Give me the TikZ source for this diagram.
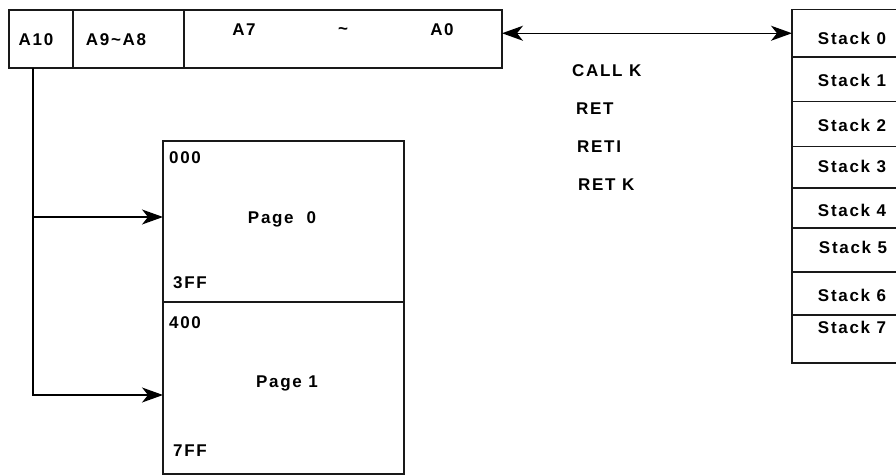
\documentclass[tikz,border=0pt]{standalone}
\usepackage{fontspec}
\newfontfamily\lbl[LetterSpace=10]{Liberation Sans}
\usetikzlibrary{arrows.meta}
\begin{document}
\begin{tikzpicture}[x=1pt,y=-1pt,
  box/.style={draw=black!90, line width=1.4pt, anchor=north west, inner sep=0pt, outer sep=0pt},
  txt/.style={font=\lbl\bfseries\fontsize{17}{20}\selectfont, inner sep=0pt, text=black},
  ltxt/.style={txt, anchor=west},
  conn/.style={line width=1.4pt, draw=black},
  tip/.style={-{Stealth[length=21pt,width=15pt,inset=6pt]}},
  tips/.style={{Stealth[length=21pt,width=15pt,inset=6pt]}-{Stealth[length=21pt,width=15pt,inset=6pt]}}]
\useasboundingbox[fill=white] (0,0) rectangle (896,476);
% register
\node[box, minimum width=64pt, minimum height=58pt] (r1) at (9,10) {};
\node[box, minimum width=111pt, minimum height=58pt] (r2) at (73,10) {};
\node[box, minimum width=318pt, minimum height=58pt] (r3) at (184,10) {};
\node[txt] (ta10) at (36,40) {A10};
\node[txt] (ta98) at (116,40) {A9\textasciitilde A8};
\node[txt] (ta7) at (244,30) {A7};
\node[txt] (tti) at (343,31) {\textasciitilde};
\node[txt] (ta0) at (442,30) {A0};
% stack
\node[box, minimum width=108pt, minimum height=47.5pt] (s0) at (792,9.5) {};
\node[box, minimum width=108pt, minimum height=44.5pt] (s1) at (792,57) {};
\node[box, minimum width=108pt, minimum height=45pt] (s2) at (792,101.5) {};
\node[box, minimum width=108pt, minimum height=41.5pt] (s3) at (792,146.5) {};
\node[box, minimum width=108pt, minimum height=40pt] (s4) at (792,188) {};
\node[box, minimum width=108pt, minimum height=44pt] (s5) at (792,228) {};
\node[box, minimum width=108pt, minimum height=43pt] (s6) at (792,272) {};
\node[box, minimum width=108pt, minimum height=48pt] (s7) at (792,315) {};
\node[txt] (ts0) at (852,38) {Stack 0};
\node[txt] (ts1) at (852,80) {Stack 1};
\node[txt] (ts2) at (852,125) {Stack 2};
\node[txt] (ts3) at (852,166) {Stack 3};
\node[txt] (ts4) at (852,210) {Stack 4};
\node[txt] (ts5) at (853,247) {Stack 5};
\node[txt] (ts6) at (852,295) {Stack 6};
\node[txt] (ts7) at (852,327) {Stack 7};
% instructions
\node[ltxt] (i1) at (572,71) {CALL K};
\node[ltxt] (i2) at (576,109) {RET};
\node[ltxt] (i3) at (577,147) {RETI};
\node[ltxt] (i4) at (578,185) {RET K};
% pages
\node[box, minimum width=241pt, minimum height=161pt] (p0) at (163,141) {};
\node[box, minimum width=241pt, minimum height=172pt] (p1) at (163,302) {};
\node[ltxt] (a000) at (169,158) {000};
\node[ltxt] (a3ff) at (173,283) {3FF};
\node[ltxt] (a400) at (169,323) {400};
\node[ltxt] (a7ff) at (173,451) {7FF};
\node[txt] (pg0) at (282,219) {Page\ \ 0};
\node[txt] (pg1) at (287,383) {Page 1};
% connectors
\draw[conn, tips] (r3.east |- s0.west) -- (s0.west);
\draw[conn, tip] ([xshift=-8pt]r1.south) |- ([yshift=-7pt]p1.west);
\draw[conn, tip] ([xshift=-8pt]r1.south) |- ([yshift=4.5pt]p0.west);
\end{tikzpicture}
\end{document}
